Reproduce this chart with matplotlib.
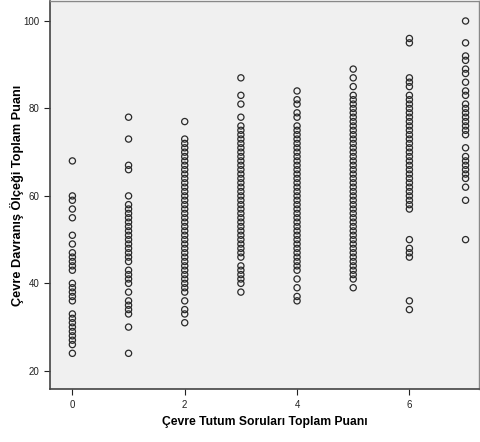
import matplotlib.pyplot as plt

plt.rcParams['font.family'] = ['Liberation Sans', 'DejaVu Sans']

# Çevre Davranış puanları, her tutum puanı için
puan_0 = [68, 60, 59, 57, 55, 51, 49, 47, 46, 45, 44, 43, 40, 39, 38, 37, 36,
          33, 32, 31, 30, 29, 28, 27, 26, 24]
puan_1 = [78, 73, 67, 66, 60, 58, 57, 56, 55, 54, 53, 52, 51, 50, 49, 48, 47,
          46, 45, 43, 42, 41, 40, 38, 36, 35, 34, 33, 30, 24]
puan_2 = [77, 73, 72, 71, 70, 69, 68, 67, 66, 65, 64, 63, 62, 61, 60, 59, 58,
          57, 56, 55, 54, 53, 52, 51, 50, 49, 48, 47, 46, 45, 44, 43, 42, 41,
          40, 39, 38, 36, 34, 33, 31]
puan_3 = [87, 83, 81, 78, 76, 75, 74, 73, 72, 71, 70, 69, 68, 67, 66, 65, 64,
          63, 62, 61, 60, 59, 58, 57, 56, 55, 54, 53, 52, 51, 50, 49, 48, 47,
          46, 44, 43, 42, 41, 40, 38]
puan_4 = [84, 82, 81, 79, 78, 76, 75, 74, 73, 72, 71, 70, 69, 68, 67, 66, 65,
          64, 63, 62, 61, 60, 59, 58, 57, 56, 55, 54, 53, 52, 51, 50, 49, 48,
          47, 46, 45, 44, 43, 41, 39, 37, 36]
puan_5 = [89, 87, 85, 83, 82, 81, 80, 79, 78, 77, 76, 75, 74, 73, 72, 71, 70,
          69, 68, 67, 66, 65, 64, 63, 62, 61, 60, 59, 58, 57, 56, 55, 54, 53,
          52, 51, 50, 49, 48, 47, 46, 45, 44, 43, 42, 41, 39]
puan_6 = [96, 95, 87, 86, 85, 83, 82, 81, 80, 79, 78, 77, 76, 75, 74, 73, 72,
          71, 70, 69, 68, 67, 66, 65, 64, 63, 62, 61, 60, 59, 58, 57, 50, 48,
          47, 46, 36, 34]
puan_7 = [100, 95, 92, 91, 89, 88, 86, 84, 83, 81, 80, 79, 78, 77, 76, 75, 74,
          71, 69, 68, 67, 66, 65, 64, 62, 59, 50]

gruplar = [puan_0, puan_1, puan_2, puan_3, puan_4, puan_5, puan_6, puan_7]

fig = plt.figure(figsize=(4.8, 4.42), dpi=100)
ax = fig.add_axes([0.104, 0.119, 0.894, 0.879])
ax.set_facecolor('#f0f0f0')

for tutum, davranis in enumerate(gruplar):
    ax.scatter([tutum] * len(davranis), davranis, s=20, facecolors='none',
               edgecolors='#2a2a2a', linewidths=0.9)

ax.set_xlim(-0.40, 7.24)
ax.set_ylim(15.75, 104.6)
ax.set_xticks([0, 2, 4, 6])
ax.set_yticks([20, 40, 60, 80, 100])
ax.tick_params(labelsize=7, length=4, width=0.8, colors='#222222')

for s in ['left', 'bottom']:
    ax.spines[s].set_color('#444444')
    ax.spines[s].set_linewidth(1.2)
for s in ['top', 'right']:
    ax.spines[s].set_color('#888888')
    ax.spines[s].set_linewidth(1.0)

ax.set_xlabel('Çevre Tutum Soruları Toplam Puanı', fontsize=8.7, fontweight='bold')
ax.set_ylabel('Çevre Davranış Ölçeği Toplam Puanı', fontsize=9.2, fontweight='bold')
ax.xaxis.set_label_coords(0.5, -0.068)
ax.yaxis.set_label_coords(-0.061, 0.5)

fig.savefig('out.png', dpi=100)
